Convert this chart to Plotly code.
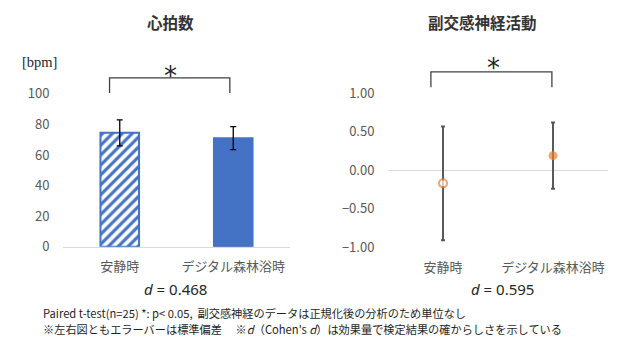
import plotly.graph_objects as go

# --- data ---------------------------------------------------------------
categories = ["安静時", "デジタル森林浴時"]

hr_mean = [74.5, 71.0]          # 心拍数 [bpm]
hr_sd = [8.5, 7.5]
hr_ticks = [0, 20, 40, 60, 80, 100]

pns_mean = [-0.17, 0.19]        # 副交感神経活動 (正規化後)
pns_sd = [0.74, 0.43]
pns_ticks = [-1.0, -0.5, 0.0, 0.5, 1.0]

cohen_d = [0.468, 0.595]

# --- styling ------------------------------------------------------------
BLUE = "#4472C4"
ORANGE = "#ED7D31"
TICK_GREY = "#595959"
LINE_GREY = "#D9D9D9"
JP = "Noto Sans CJK JP"
W, H = 640, 342


def py(y):
    """Vertical pixel position (from top) -> paper fraction."""
    return 1 - y / H


fig = go.Figure()

# left panel: heart-rate bars with SD error bars
fig.add_trace(go.Bar(
    x=categories, y=hr_mean,
    width=0.34,
    marker=dict(
        color=BLUE,
        line=dict(color=BLUE, width=2),
        pattern=dict(shape=["/", ""], fgcolor=BLUE, bgcolor="white",
                     fgopacity=1, size=7, solidity=0.45, fillmode="replace"),
    ),
    error_y=dict(type="data", array=hr_sd, color="#000000",
                 thickness=1.3, width=3),
    xaxis="x", yaxis="y", showlegend=False, hoverinfo="skip",
))

# right panel: parasympathetic activity points with SD error bars
fig.add_trace(go.Scatter(
    x=categories, y=pns_mean, mode="markers",
    marker=dict(color=["white", ORANGE], size=[8, 9],
                line=dict(color=ORANGE, width=[2, 0])),
    error_y=dict(type="data", array=pns_sd, color=TICK_GREY,
                 thickness=2, width=2),
    xaxis="x2", yaxis="y2", showlegend=False, hoverinfo="skip",
))

tick_font = dict(family=JP, size=13, color=TICK_GREY)

fig.update_layout(
    width=W, height=H,
    margin=dict(l=0, r=0, t=0, b=0),
    paper_bgcolor="white", plot_bgcolor="white",
    xaxis=dict(domain=[63 / W, 290 / W], range=[-0.5, 1.5],
               type="category", categoryarray=categories,
               showline=True, linecolor=LINE_GREY, linewidth=1,
               showgrid=False, zeroline=False,
               ticks="outside", ticklen=8, tickcolor="rgba(0,0,0,0)",
               tickfont=tick_font),
    yaxis=dict(domain=[py(253.3), py(76.0)], range=[0, 113],
               tickvals=hr_ticks, showgrid=False, zeroline=False,
               showline=False,
               ticks="outside", ticklen=10, tickcolor="rgba(0,0,0,0)",
               tickfont=tick_font),
    xaxis2=dict(domain=[388 / W, 608 / W], range=[-0.5, 1.5],
                type="category", categoryarray=categories,
                anchor="y2", showline=False, showgrid=False, zeroline=False,
                ticks="outside", ticklen=4, tickcolor="rgba(0,0,0,0)",
                tickfont=tick_font),
    yaxis2=dict(domain=[py(257.8), py(68.3)], range=[-1.05, 1.35],
                anchor="x2", tickvals=pns_ticks, tickformat=".2f",
                showgrid=False, zeroline=True, zerolinecolor=LINE_GREY,
                zerolinewidth=1, showline=False,
                ticks="outside", ticklen=10, tickcolor="rgba(0,0,0,0)",
                tickfont=tick_font),
)

# significance brackets
bracket = dict(color="#404040", width=1.3)
fig.add_shape(type="path", xref="x", yref="y",
              path="M -0.09,100.5 L -0.09,110.5 L 0.97,110.5 L 0.97,100.5",
              line=bracket)
fig.add_shape(type="path", xref="x2", yref="y2",
              path="M -0.11,1.08 L -0.11,1.28 L 0.99,1.28 L 0.99,1.08",
              line=bracket)

annotations = []


def note(x, y, text, size, color="#262626", family=JP, anchor="center", **kw):
    annotations.append(dict(xref="paper", yref="paper", x=x / W, y=py(y),
                            text=text, showarrow=False, xanchor=anchor,
                            yanchor="middle",
                            font=dict(family=family, size=size, color=color),
                            **kw))


# panel titles
note(170, 23, "<b>心拍数</b>", 15.5, color="#333333")
note(482, 23, "<b>副交感神経活動</b>", 15.5, color="#333333")

# unit label
note(39, 64, "[bpm]", 14.5, color="#262626", family="Liberation Serif")

# significance stars
note(170, 78, "*", 26, color="#262626", family="DejaVu Sans")
note(493, 70, "*", 26, color="#262626", family="DejaVu Sans")

# effect sizes
note(175, 297, f"<i>d</i> = {cohen_d[0]:.3f}", 15, color="#262626",
     family="Noto Sans")
note(502, 297, f"<i>d</i> = {cohen_d[1]:.3f}", 15, color="#262626",
     family="Noto Sans")

# footnotes
note(41, 321.5, "Paired t-test(n=25) *: p&lt; 0.05,  副交感神経のデータは正規化後の分析のため単位なし",
     11.2, color="#1f1f1f", anchor="left")
note(41, 338, "※左右図ともエラーバーは標準偏差　 ※<i>d</i>（Cohen's <i>d</i>）は効果量で検定結果の確からしさを示している",
     11.2, color="#1f1f1f", anchor="left")

fig.update_layout(annotations=annotations)

fig.write_html("out.html")
